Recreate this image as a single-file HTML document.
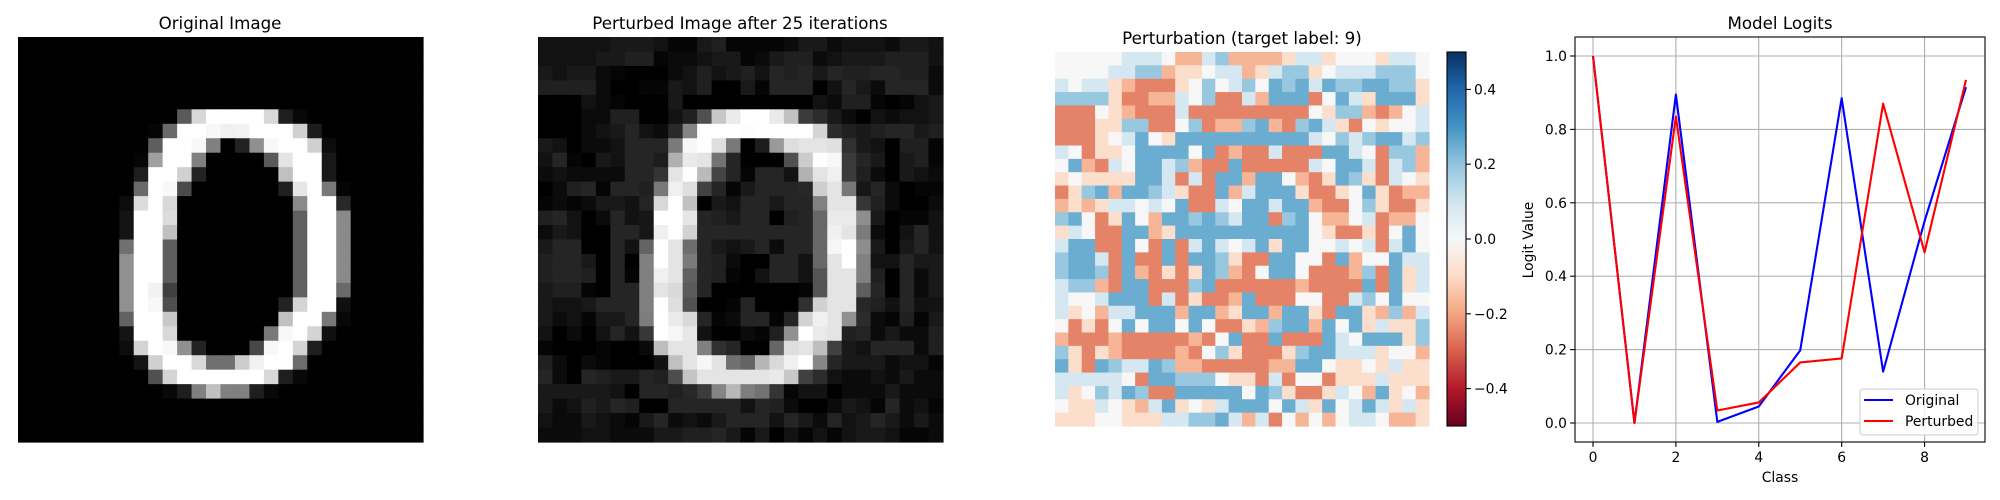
<!DOCTYPE html>
<html><head><meta charset="utf-8">
<style>
html,body{margin:0;padding:0;background:#fff;}
svg{display:block;font-family:"DejaVu Sans","Liberation Sans",sans-serif;}
</style></head>
<body>
<svg id="fig" width="2000" height="500" viewBox="0 0 2000 500" xmlns="http://www.w3.org/2000/svg">
<defs>
<linearGradient id="rdbu" x1="0" y1="1" x2="0" y2="0">
<stop offset="0" stop-color="#67001f"/><stop offset="0.1" stop-color="#b2182b"/><stop offset="0.2" stop-color="#d6604d"/><stop offset="0.3" stop-color="#f4a582"/><stop offset="0.4" stop-color="#fddbc7"/><stop offset="0.5" stop-color="#f7f7f7"/><stop offset="0.6" stop-color="#d1e5f0"/><stop offset="0.7" stop-color="#92c5de"/><stop offset="0.8" stop-color="#4393c3"/><stop offset="0.9" stop-color="#2166ac"/><stop offset="1" stop-color="#053061"/>
</linearGradient>
</defs>
<text x="220" y="29" font-size="16.7" text-anchor="middle">Original Image</text>
<text x="740" y="29" font-size="16.7" text-anchor="middle">Perturbed Image after 25 iterations</text>
<text x="1242" y="44" font-size="16.7" text-anchor="middle">Perturbation (target label: 9)</text>
<text x="1780" y="29" font-size="16.7" text-anchor="middle">Model Logits</text>
<g id="g-orig"></g>
<g id="g-pert"></g>
<g id="g-heat"></g>
<g id="g-cbar"></g>
<g id="g-logits"></g>
</svg>
<script>
// ---- data ----
// original digit: [row, startCol, values(0-255)...]
const origRows = [
[5,11,0x5a,0xd8,0xff,0xff,0xff,0xff,0xd8,0x1e,0x08],
[6,9,0x05,0x6a,0xff,0xff,0xf8,0xf0,0xf2,0xff,0xff,0xff,0xd0,0x1c],
[7,9,0x5e,0xff,0xff,0xf8,0x80,0x00,0x22,0x90,0xf8,0xff,0xff,0xd0,0x0c],
[8,8,0x05,0xa0,0xff,0xff,0x80,0,0,0,0,0x5a,0xe4,0xff,0xff,0x18],
[9,8,0x1e,0xff,0xff,0xd0,0x22,0,0,0,0,0,0xc0,0xff,0xff,0x18],
[10,8,0x6a,0xff,0xf8,0x4a,0,0,0,0,0,0,0x20,0xe6,0xff,0x78,0x05],
[11,7,0x0c,0xdc,0xff,0xd8,0,0,0,0,0,0,0,0,0x8a,0xff,0xff,0x28],
[12,7,0x14,0xff,0xff,0xdc,0,0,0,0,0,0,0,0,0x60,0xff,0xff,0x8a],
[13,7,0x14,0xff,0xff,0xc0,0,0,0,0,0,0,0,0,0x60,0xff,0xff,0x8a],
[14,7,0x70,0xff,0xff,0x5e,0,0,0,0,0,0,0,0,0x60,0xff,0xff,0x8a],
[15,7,0x90,0xff,0xff,0x5e,0,0,0,0,0,0,0,0,0x60,0xff,0xff,0x8a],
[16,7,0x90,0xff,0xff,0x5e,0,0,0,0,0,0,0,0,0x60,0xff,0xff,0x8a],
[17,7,0x90,0xff,0xf2,0x40,0,0,0,0,0,0,0,0,0x60,0xff,0xff,0x6a],
[18,7,0x90,0xff,0xf8,0x4e,0,0,0,0,0,0,0,0x22,0xd4,0xff,0xff,0x10],
[19,7,0x62,0xff,0xff,0xc8,0,0,0,0,0,0,0,0xc0,0xff,0xff,0x78,0x08],
[20,7,0x14,0xff,0xff,0xd8,0,0,0,0,0,0,0x78,0xf8,0xff,0xd4,0x10],
[21,7,0x0c,0xd4,0xff,0xf8,0x90,0x22,0,0,0,0x48,0xf8,0xff,0xd4,0x1e],
[22,8,0x14,0xd0,0xff,0xff,0xd8,0x70,0x70,0xcc,0xf2,0xff,0xff,0x6c],
[23,9,0x50,0xd4,0xff,0xff,0xff,0xff,0xff,0xff,0xd8,0x1e,0x08],
[24,10,0x08,0x1e,0x80,0xc0,0x80,0x80,0x1e,0x08]
];
// perturbation levels per row (R strong red ... B strong blue)
const pertRows = [
"wwwwwbbbwrrbcrrrrpbbpwwwpbbw",
"wwwwbbccrppwbbrpbccpwbbbcccw",
"bwbbprRRRpwcwbcwBcBbBccBBccp",
"ccccpRRrrbwcRRbrBBBRwBbpBBBp",
"RRRwprRRRbRRRRRRRRRwpccrRrwb",
"RRRppccRRwcRrrcBrRcBbpRwpwwb",
"RRRpwbBwpBBBBBBBBBBbwcbcBBbc",
"bwRppwBBBBwBRrRRbRRRBBbwRccr",
"wBrRbwBBbcrRRBRRRRRbwBBbRbcr",
"pwppppBBbRbRBBrBBwrRpBcpRbwp",
"RpcBrBBcbpRRBrbBBBpRRpwBpRrr",
"rprpbbwbwBRRbwBBbBBrRRwcpRRp",
"cBwRpBwrBBcBcbBBRcBwrrwbRrrw",
"pbwRRBBrpBBBBBBBBBBwpRRpRwBw",
"bBBRRBwRBRbBbwbBpBBwwbwbRbBw",
"cBBbRBRRBRBBcpRRBBwwRBrwwBbb",
"cBBcRBrRpRpBcrRwBBwRRRrcRBpb",
"bccrRBBRRRcBRRRRRRrRRRRBRBpb",
"bwwbBBBRbRpRRrBRRRwwRRbcwBww",
"bpwrbbBBBrBBrpBBrBBpRBBprcrb",
"wRpRwBwBBwBwRRprcBBrBwBpbppc",
"rRRRrRRRRRrRwBRRBRRRBbwBBBpc",
"cpRprRRRRrRwcpRRRpcBBbbbpwwr",
"BpRBcbbBcrrRRRRRrrBBwppwpbpp",
"bbbbbwRBBcccwppRbRwwRpppbppp",
"bpwcbBcRRBBBBBwBcpRRpbwrBpwr",
"wppbwprbBpwpbBBBwBbpBwbBbpbp",
"pppwwpppbbccBbrbRwrwrwbbwrrp"
];
const levelValues = {R:-0.25, r:-0.17, p:-0.09, w:0.0, b:0.09, c:0.19, B:0.25};
const logitClasses = [0,1,2,3,4,5,6,7,8,9];
const logitsOriginal = [1.0,0.0,0.895,0.003,0.045,0.198,0.885,0.14,0.55,0.915];
const logitsPerturbed = [1.0,0.0,0.835,0.034,0.056,0.165,0.176,0.87,0.465,0.935];
const xTicks = [0,2,4,6,8];
const yTicks = [0.0,0.2,0.4,0.6,0.8,1.0];
const cbarTicks = [0.4,0.2,0.0,-0.2,-0.4];

// ---- helpers ----
const NS="http://www.w3.org/2000/svg";
function mk(tag,attrs,parent){const e=document.createElementNS(NS,tag);for(const k in attrs)e.setAttribute(k,attrs[k]);parent.appendChild(e);return e;}
const N=28;
const orig=[];for(let r=0;r<N;r++){orig.push(new Array(N).fill(0));}
origRows.forEach(row=>{const r=row[0],c0=row[1];for(let i=2;i<row.length;i++)orig[r][c0+i-2]=row[i]/255;});
const pert=pertRows.map(s=>s.split('').map(ch=>levelValues[ch]));
const stops=[[0x67,0x00,0x1f],[0xb2,0x18,0x2b],[0xd6,0x60,0x4d],[0xf4,0xa5,0x82],[0xfd,0xdb,0xc7],[0xf7,0xf7,0xf7],[0xd1,0xe5,0xf0],[0x92,0xc5,0xde],[0x43,0x93,0xc3],[0x21,0x66,0xac],[0x05,0x30,0x61]];
function rdbu(v){let t=(v+0.5)/1.0;t=Math.max(0,Math.min(1,t))*10;const i=Math.min(9,Math.floor(t)),f=t-i;const a=stops[i],b=stops[i+1];return `rgb(${a.map((x,k)=>Math.round(x+(b[k]-x)*f)).join(',')})`;}
function gray(v){const g=Math.round(Math.max(0,Math.min(1,v))*255);return `rgb(${g},${g},${g})`;}

function drawGrid(gid,x0,y0,size,colorFn,name){
  const g=document.getElementById(gid);const cs=size/N;
  for(let r=0;r<N;r++)for(let c=0;c<N;c++){
    const e=mk('rect',{x:(x0+c*cs).toFixed(2),y:(y0+r*cs).toFixed(2),width:(cs+0.6).toFixed(2),height:(cs+0.6).toFixed(2),fill:colorFn(r,c)},g);
    
    
  }
}
drawGrid('g-orig',18,37,405,(r,c)=>gray(orig[r][c]),'original-pixel');
drawGrid('g-pert',538,37,405,(r,c)=>gray(orig[r][c]*0.9+0.07+0.3*pert[r][c]),'perturbed-pixel');
drawGrid('g-heat',1055,52,374,(r,c)=>rdbu(pert[r][c]),'heatmap-cell');

// colorbar
(function(){
  const g=document.getElementById('g-cbar');
  const x0=1447,x1=1466,yT=52,yB=426;
  const cy=v=>yB-(v+0.5)*(yB-yT);
  const bar=mk('rect',{x:x0,y:yT,width:x1-x0,height:yB-yT,fill:'url(#rdbu)',stroke:'#000','stroke-width':1.1},g);
  
  
  cbarTicks.forEach(v=>{
    const y=cy(v);
    const t=mk('line',{x1:x1,x2:x1+4.9,y1:y,y2:y,stroke:'#000','stroke-width':1.1},g);
    
    
    const l=mk('text',{x:x1+8,y:y+5,'font-size':13.9},g);
    l.textContent=(v<0?'\u2212':'')+Math.abs(v).toFixed(1);
    
    
  });
})();

// logits chart
(function(){
  const g=document.getElementById('g-logits');
  const L=1575,R=1985,T=37,B=442;
  const xs=v=>1593+v*(1966-1593)/9;
  const ys=v=>423-v*(423-56);
  xTicks.forEach(v=>{
    const gl=mk('line',{x1:xs(v),x2:xs(v),y1:T,y2:B,stroke:'#b0b0b0','stroke-width':1.1},g);
    
    
    const t=mk('line',{x1:xs(v),x2:xs(v),y1:B,y2:B+4.9,stroke:'#000','stroke-width':1.1},g);
    
    
    const l=mk('text',{x:xs(v),y:B+20,'font-size':13.9,'text-anchor':'middle'},g);
    l.textContent=String(v);
    
    
  });
  yTicks.forEach(v=>{
    const gl=mk('line',{x1:L,x2:R,y1:ys(v),y2:ys(v),stroke:'#b0b0b0','stroke-width':1.1},g);
    
    
    const t=mk('line',{x1:L-4.9,x2:L,y1:ys(v),y2:ys(v),stroke:'#000','stroke-width':1.1},g);
    
    
    const l=mk('text',{x:L-8,y:ys(v)+5,'font-size':13.9,'text-anchor':'end'},g);
    l.textContent=v.toFixed(1);
    
    
  });
  function series(vals,color,name){
    const p=mk('polyline',{points:logitClasses.map((c,i)=>xs(c).toFixed(2)+','+ys(vals[i]).toFixed(2)).join(' '),fill:'none',stroke:color,'stroke-width':2.1,'stroke-linejoin':'round'},g);
    
    
  }
  series(logitsOriginal,'#0000ff','original-logits-line');
  series(logitsPerturbed,'#ff0000','perturbed-logits-line');
  const fr=mk('rect',{x:L,y:T,width:R-L,height:B-T,fill:'none',stroke:'#000','stroke-width':1.1},g);
  
  
  const xl=mk('text',{x:(L+R)/2,y:482,'font-size':13.9,'text-anchor':'middle'},g);
  xl.textContent='Class';
  
  
  const yl=mk('text',{x:0,y:0,'font-size':13.9,'text-anchor':'middle',transform:'translate(1533,240) rotate(-90)'},g);
  yl.textContent='Logit Value';
  
  
  const lg=mk('g',{},g);
  
  
  const lb=mk('rect',{x:1860,y:389,width:118,height:46,rx:3,fill:'#fff','fill-opacity':0.8,stroke:'#cccccc','stroke-width':1},lg);
  
  
  [['Original','#0000ff',400],['Perturbed','#ff0000',421]].forEach(([txt,col,y])=>{
    const ln=mk('line',{x1:1864,x2:1893,y1:y,y2:y,stroke:col,'stroke-width':2.1},lg);
    
    
    const t=mk('text',{x:1905,y:y+5,'font-size':13.9},lg);
    t.textContent=txt;
    
    
  });
})();
</script>
</body></html>
